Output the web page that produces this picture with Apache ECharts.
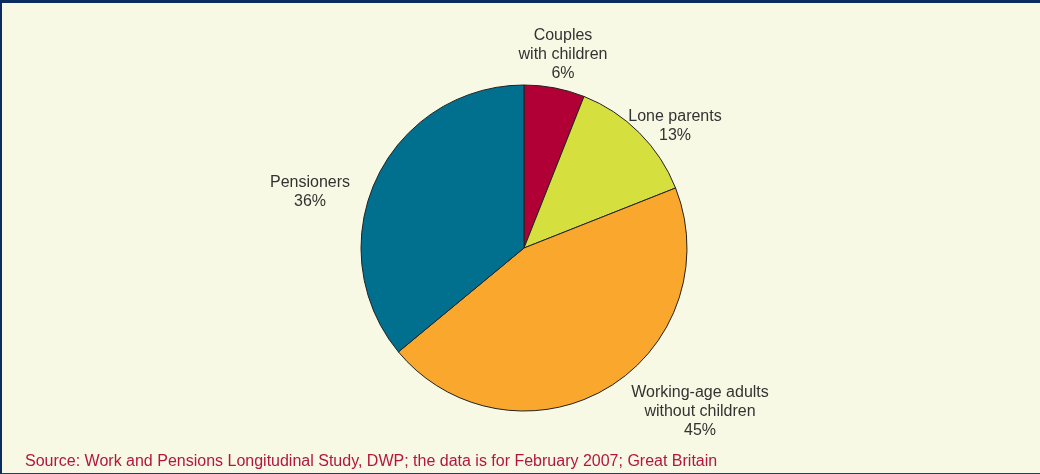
<!DOCTYPE html>
<html>
<head>
<meta charset="utf-8">
<script src="https://cdn.jsdelivr.net/npm/echarts@6/dist/echarts.min.js"></script>
<style>
  html, body { margin: 0; padding: 0; background: #F8F9E4; }
  #frame { position: absolute; left: 0; top: 0; width: 1040px; height: 474px; box-sizing: border-box;
           border-top: 3px solid #0B2C5E; border-left: 2px solid #0B2C5E; border-bottom: 1px solid #1D3F6E; }
  #chart { width: 100%; height: 100%; }
</style>
</head>
<body>
<div id="frame"><div id="chart"></div></div>
<script>
const categories = ['Couples\nwith children', 'Lone parents', 'Working-age adults\nwithout children', 'Pensioners'];
const values = [6, 13, 45, 36];
const colors = ['#B10036', '#D5DF3D', '#F9A82D', '#016F8E'];
const sourceText = 'Source: Work and Pensions Longitudinal Study, DWP; the data is for February 2007; Great Britain';
// label offsets (px) from pie centre
const labelOffsets = [[39, -193], [151, -122], [176, 164], [-214, -56]];

const chart = echarts.init(document.getElementById('chart'));
const center = [522, 245];
chart.setOption({
  backgroundColor: '#F8F9E4',
  animation: false,
  title: {
    text: sourceText,
    left: 18, bottom: -2,
    textStyle: { color: '#B5163F', fontSize: 16, fontWeight: 'normal', fontFamily: 'Liberation Sans, Arial, sans-serif' }
  },
  series: [{
    type: 'pie',
    center: center,
    radius: 163,
    startAngle: 90,
    clockwise: true,
    data: categories.map((c, i) => ({ name: c, value: values[i], itemStyle: { color: colors[i] } })),
    itemStyle: { borderColor: '#222222', borderWidth: 1 },
    label: {
      show: true,
      position: 'outside',
      formatter: p => p.name + '\n' + p.value + '%',
      color: '#333333',
      fontSize: 16,
      lineHeight: 19,
      align: 'center',
      fontFamily: 'Liberation Sans, Arial, sans-serif'
    },
    labelLine: { show: false },
    labelLayout: p => ({
      x: center[0] + labelOffsets[p.dataIndex][0],
      y: center[1] + labelOffsets[p.dataIndex][1],
      align: 'center',
      verticalAlign: 'middle'
    })
  }]
});
</script>
</body>
</html>
